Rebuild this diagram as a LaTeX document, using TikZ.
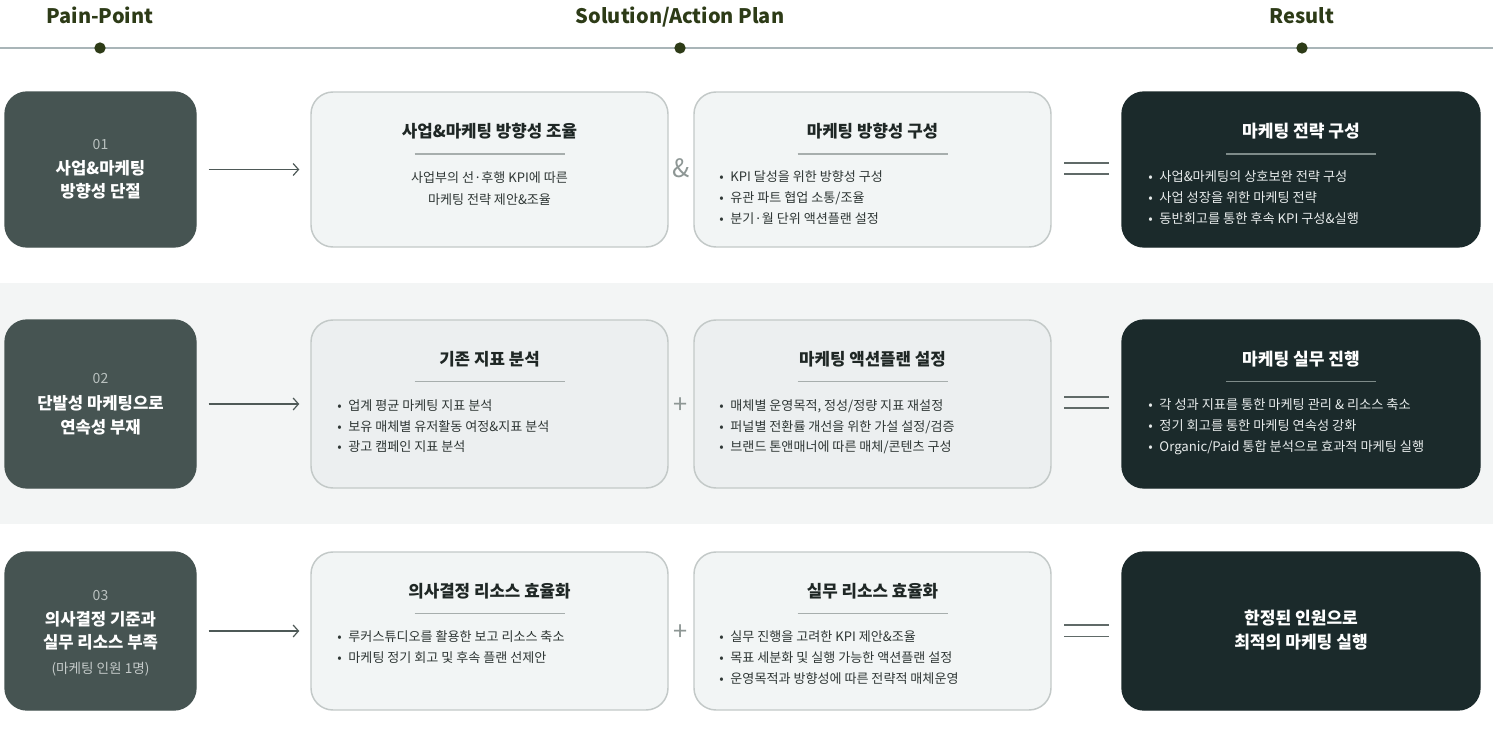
\documentclass[tikz,border=0pt]{standalone}
\usepackage{fontspec}
\setmainfont{Noto Sans CJK KR}
\usetikzlibrary{arrows.meta}
\definecolor{hdr}{HTML}{2D3B17}
\definecolor{hline}{HTML}{A9B5B8}
\definecolor{painfill}{HTML}{465452}
\definecolor{resfill}{HTML}{1B2A2B}
\definecolor{solfill}{HTML}{F2F5F5}
\definecolor{solfillb}{HTML}{ECEFF0}
\definecolor{solborder}{HTML}{C3C9C8}
\definecolor{bandc}{HTML}{F3F5F5}
\definecolor{ink}{HTML}{2F3735}
\definecolor{inkt}{HTML}{1F2725}
\definecolor{conn}{HTML}{4E5957}
\definecolor{opgray}{HTML}{8E9795}
\definecolor{numgray}{HTML}{B9C1BF}
\definecolor{uline}{HTML}{A7AEAD}
\definecolor{resline}{HTML}{7E8B89}
\definecolor{restext}{HTML}{E8ECEC}
\newcommand\bul{\makebox[8.4pt][l]{•}}
\begin{document}
\begin{tikzpicture}[x=0.75pt,y=-0.75pt,
  boxbase/.style={rounded corners=16.5pt, inner sep=0pt, line width=1pt},
  painbox/.style={boxbase, fill=painfill, draw=painfill, minimum width=143.25pt},
  solbox/.style={boxbase, fill=solfill, draw=solborder, line width=1.1pt, minimum width=267.75pt},
  solboxb/.style={solbox, fill=solfillb},
  resbox/.style={boxbase, fill=resfill, draw=resfill, minimum width=268.5pt},
  rowa/.style={minimum height=116.25pt},
  rowb/.style={minimum height=126pt},
  rowc/.style={minimum height=118.5pt},
  ln/.style={inner sep=0pt, text height=0.75em, text depth=0pt},
  hdrtxt/.style={ln, text=hdr, font=\fontsize{15}{15}\selectfont\bfseries},
  dotn/.style={circle, fill=hdr, inner sep=0pt, minimum size=8.5pt},
  numtxt/.style={ln, text=numgray, font=\fontsize{10.5}{10.5}\selectfont},
  paintxt/.style={ln, text=white, font=\fontsize{12.5}{12.5}\selectfont\bfseries},
  painsub/.style={ln, text=numgray!85!white, font=\fontsize{10.2}{10.2}\selectfont},
  soltitle/.style={ln, text=inkt, font=\fontsize{12.6}{12.6}\selectfont\bfseries},
  soltxt/.style={ln, text=ink, font=\fontsize{9.8}{9.8}\selectfont},
  bl/.style={soltxt, anchor=west},
  restitle/.style={ln, text=white, font=\fontsize{12.8}{12.8}\selectfont\bfseries},
  restxt/.style={ln, text=restext, font=\fontsize{9.9}{9.9}\selectfont, anchor=west},
  optxt/.style={ln, text=opgray, font=\fontsize{19}{19}\selectfont},
  arr/.style={draw=conn, line width=0.9pt, -{Straight Barb[length=4pt, width=9pt, line width=0.9pt]}, shorten <=9pt, shorten >=8.25pt},
  eqline/.style={draw=conn!90!white, line width=1.3pt},
  uln/.style={draw=uline, line width=0.9pt},
  rln/.style={draw=resline, line width=0.9pt}
]
\useasboundingbox (0,0) rectangle (1493,732);
\fill[white] (0,0) rectangle (1493,732);
% band
\fill[bandc] (0,283) rectangle (1493,524);

% header
\draw[hline, line width=1.2pt] (0,48) -- (1493,48);
\node[hdrtxt] (h1) at (100,18.5) {Pain-Point};
\node[hdrtxt] (h2) at (680,18.5) {Solution/Action Plan};
\node[hdrtxt] (h3) at (1302,18.5) {Result};
\node[dotn] (d1) at (100,48) {};
\node[dotn] (d2) at (680,48) {};
\node[dotn] (d3) at (1302,48) {};

% ---------------- Row 1
\node[painbox, rowa] (p1) at (100.5,169.5) {};
\node[numtxt] (p1n) at (100.5,144) {01};
\node[paintxt] (p1a) at (100.5,169) {사업\&마케팅};
\node[paintxt] (p1b) at (100.5,192) {방향성 단절};

\node[solbox, rowa] (s1a) at (489.5,169.5) {};
\node[soltitle] (s1at) at (489.5,132) {사업\&마케팅 방향성 조율};
\draw[uln] (414.5,154) -- (564.5,154);
\node[soltxt] (s1a1) at (489.5,177) {사업부의 선·후행 KPI에 따른};
\node[soltxt] (s1a2) at (489.5,199) {마케팅 전략 제안\&조율};

\node[optxt] (op1) at (681,172) {\&};

\node[solbox, rowa] (s1b) at (872.5,169.5) {};
\node[soltitle] (s1bt) at (872.5,132) {마케팅 방향성 구성};
\draw[uln] (797.5,154) -- (947.5,154);
\node[bl] (s1b1) at (719,176) {\bul KPI 달성을 위한 방향성 구성};
\node[bl] (s1b2) at (719,197) {\bul 유관 파트 협업 소통/조율};
\node[bl] (s1b3) at (719,218) {\bul 분기·월 단위 액션플랜 설정};

\draw[eqline] (1064,162.7) -- (1109,162.7);
\draw[eqline] (1064,173.7) -- (1109,173.7);

\node[resbox, rowa] (r1) at (1301,169.5) {};
\node[restitle] (r1t) at (1301,132) {마케팅 전략 구성};
\draw[rln] (1226,154) -- (1376,154);
\node[restxt] (r1a) at (1148,176) {\bul 사업\&마케팅의 상호보완 전략 구성};
\node[restxt] (r1b) at (1148,197) {\bul 사업 성장을 위한 마케팅 전략};
\node[restxt] (r1c) at (1148,218) {\bul 동반회고를 통한 후속 KPI 구성\&실행};

\draw[arr] (p1) -- (s1a);

% ---------------- Row 2
\node[painbox, rowb] (p2) at (100.5,404) {};
\node[numtxt] (p2n) at (100.5,378) {02};
\node[paintxt] (p2a) at (100.5,404) {단발성 마케팅으로};
\node[paintxt] (p2b) at (100.5,428) {연속성 부재};

\node[solboxb, rowb] (s2a) at (489.5,404) {};
\node[soltitle] (s2at) at (489.5,360) {기존 지표 분석};
\draw[uln] (414.5,381.5) -- (564.5,381.5);
\node[bl] (s2a1) at (337,405) {\bul 업계 평균 마케팅 지표 분석};
\node[bl] (s2a2) at (337,426) {\bul 보유 매체별 유저활동 여정\&지표 분석};
\node[bl] (s2a3) at (337,446) {\bul 광고 캠페인 지표 분석};

\node[optxt] (op2) at (681,408) {+};

\node[solboxb, rowb] (s2b) at (872.5,404) {};
\node[soltitle] (s2bt) at (872.5,360) {마케팅 액션플랜 설정};
\draw[uln] (797.5,381.5) -- (947.5,381.5);
\node[bl] (s2b1) at (719,405) {\bul 매체별 운영목적, 정성/정량 지표 재설정};
\node[bl] (s2b2) at (719,426) {\bul 퍼널별 전환률 개선을 위한 가설 설정/검증};
\node[bl] (s2b3) at (719,446) {\bul 브랜드 톤앤매너에 따른 매체/콘텐츠 구성};

\draw[eqline] (1064,397.3) -- (1109,397.3);
\draw[eqline] (1064,408.3) -- (1109,408.3);

\node[resbox, rowb] (r2) at (1301,404) {};
\node[restitle] (r2t) at (1301,360) {마케팅 실무 진행};
\draw[rln] (1226,381.5) -- (1376,381.5);
\node[restxt] (r2a) at (1148,404) {\bul 각 성과 지표를 통한 마케팅 관리 \& 리소스 축소};
\node[restxt] (r2b) at (1148,425) {\bul 정기 회고를 통한 마케팅 연속성 강화};
\node[restxt] (r2c) at (1148,446) {\bul Organic/Paid 통합 분석으로 효과적 마케팅 실행};

\draw[arr] (p2) -- (s2a);

% ---------------- Row 3
\node[painbox, rowc] (p3) at (100.5,631) {};
\node[numtxt] (p3n) at (100.5,595) {03};
\node[paintxt] (p3a) at (100.5,620) {의사결정 기준과};
\node[paintxt] (p3b) at (100.5,643) {실무 리소스 부족};
\node[painsub] (p3c) at (100.5,668) {(마케팅 인원 1명)};

\node[solbox, rowc] (s3a) at (489.5,631) {};
\node[soltitle] (s3at) at (489.5,592) {의사결정 리소스 효율화};
\draw[uln] (414.5,613.5) -- (564.5,613.5);
\node[bl] (s3a1) at (337,636.5) {\bul 루커스튜디오를 활용한 보고 리소스 축소};
\node[bl] (s3a2) at (337,657.5) {\bul 마케팅 정기 회고 및 후속 플랜 선제안};

\node[optxt] (op3) at (681,635) {+};

\node[solbox, rowc] (s3b) at (872.5,631) {};
\node[soltitle] (s3bt) at (872.5,592) {실무 리소스 효율화};
\draw[uln] (797.5,613.5) -- (947.5,613.5);
\node[bl] (s3b1) at (719,636.5) {\bul 실무 진행을 고려한 KPI 제안\&조율};
\node[bl] (s3b2) at (719,657.5) {\bul 목표 세분화 및 실행 가능한 액션플랜 설정};
\node[bl] (s3b3) at (719,678.5) {\bul 운영목적과 방향성에 따른 전략적 매체운영};

\draw[eqline] (1064,625) -- (1109,625);
\draw[eqline] (1064,636.5) -- (1109,636.5);

\node[resbox, rowc] (r3) at (1301,631) {};
\node[restitle] (r3a) at (1301,619) {한정된 인원으로};
\node[restitle] (r3b) at (1301,643) {최적의 마케팅 실행};

\draw[arr] (p3) -- (s3a);
\end{tikzpicture}
\end{document}
